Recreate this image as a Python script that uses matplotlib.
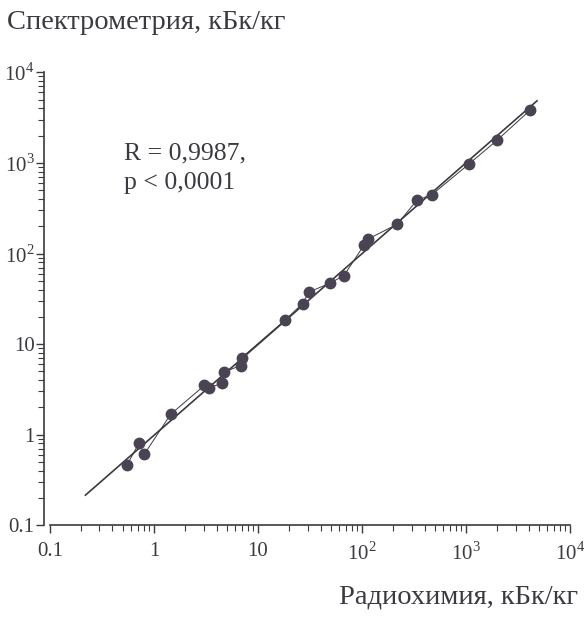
import numpy as np
import matplotlib
matplotlib.use("Agg")
import matplotlib.pyplot as plt

# values (kBq/kg)
radiochem = [0.55, 0.72, 0.81, 1.45, 3.06, 3.42, 4.5, 4.7, 6.8, 7.0, 18.1,
             26.8, 31, 49, 67, 105, 115, 217, 337, 470, 1076, 1980, 4100]
spectrom = [0.46, 0.81, 0.61, 1.68, 3.5, 3.3, 3.7, 4.9, 5.8, 7.1, 18.3,
            28, 37.6, 47, 57, 125, 145, 210, 387, 447, 982, 1775, 3800]

fit_range = [0.22, 4800]
decades = [0.1, 1, 10, 100, 1000, 10000]
decade_labels = ["0.1", "1", "10", "10$^{2}$", "10$^{3}$", "10$^{4}$"]

stats_text = "R = 0,9987,\np < 0,0001"
ylabel_text = "Спектрометрия, кБк/кг"
xlabel_text = "Радиохимия, кБк/кг"

plt.rcParams["font.family"] = ["Liberation Serif", "DejaVu Serif"]
plt.rcParams["mathtext.fontset"] = "custom"
plt.rcParams["mathtext.rm"] = "Liberation Serif"

ink = "#3c3a40"
dot = "#4a4352"

fig = plt.figure(figsize=(5.86, 6.18), dpi=100)
ax = fig.add_axes([0.085, 0.150, 0.888, 0.733])

# regression line in log-log space
coef = np.polyfit(np.log10(radiochem), np.log10(spectrom), 1)
fx = np.array(fit_range)
fy = 10 ** np.polyval(coef, np.log10(fx))
ax.plot(fx, fy, color=ink, lw=1.2)

# points joined in order of x
order = np.argsort(radiochem)
xs = np.array(radiochem)[order]
ys = np.array(spectrom)[order]
ax.plot(xs, ys, color=ink, lw=0.7)
ax.plot(xs, ys, ls="none", marker="o", ms=7.5, color=dot, mec=dot)

ax.set_xscale("log")
ax.set_yscale("log")
ax.set_xlim(0.1, 10000)
ax.set_ylim(0.1, 10000)

ax.set_xticks(decades, decade_labels)
ax.set_yticks(decades, decade_labels)
ax.minorticks_on()
ax.tick_params(axis="both", which="both", direction="out", colors=ink,
               labelsize=15)
ax.tick_params(axis="x", which="major", pad=6)
ax.tick_params(axis="y", which="major", pad=1)
ax.tick_params(which="major", length=6, width=1)
ax.tick_params(which="minor", length=4, width=0.8)
ax.xaxis.set_minor_formatter(plt.NullFormatter())
ax.yaxis.set_minor_formatter(plt.NullFormatter())

for side in ["top", "right"]:
    ax.spines[side].set_visible(False)
for side in ["left", "bottom"]:
    ax.spines[side].set_color(ink)
    ax.spines[side].set_linewidth(1.2)
ax.spines["left"].set_position(("outward", 4))

ax.text(0.142, 0.845, stats_text, transform=ax.transAxes, fontsize=18.5,
        color=ink, va="top", ha="left", linespacing=1.45)

fig.text(0.012, 0.964, ylabel_text, fontsize=20.5, color=ink,
         ha="left", va="center")
fig.text(0.986, 0.034, xlabel_text, fontsize=20.5, color=ink,
         ha="right", va="center")

fig.savefig("out.png", dpi=100, facecolor="white")
